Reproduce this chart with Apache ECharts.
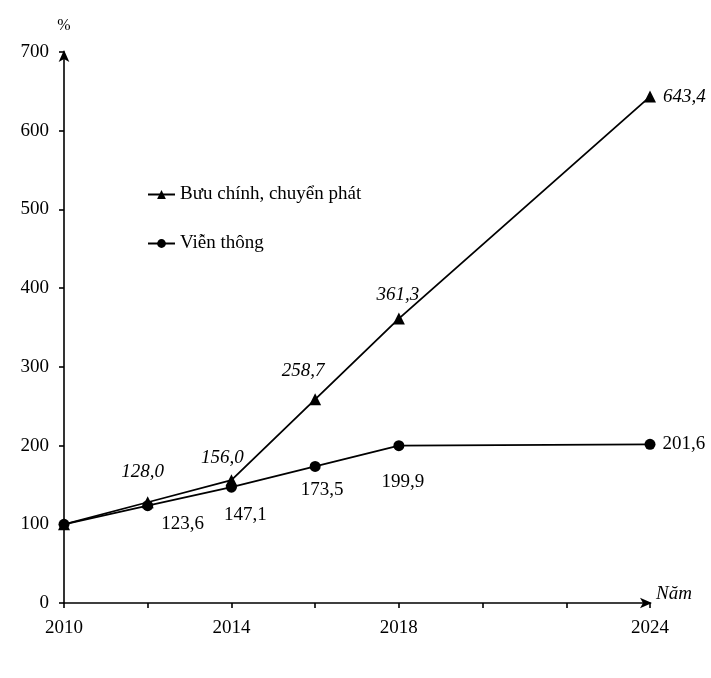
<!DOCTYPE html>
<html>
<head>
<meta charset="utf-8">
<script src="https://cdn.jsdelivr.net/npm/echarts@6/dist/echarts.min.js"></script>
<style>
html, body { margin: 0; padding: 0; background: #fff; }
#chart { width: 711px; height: 678px; }
</style>
</head>
<body>
<div id="chart"></div>
<script>
// so lieu doc tu hinh
var years = [2010, 2012, 2014, 2016, 2018, 2024];
var buuChinh = [100, 128.0, 156.0, 258.7, 361.3, 643.4];
var vienThong = [100, 123.6, 147.1, 173.5, 199.9, 201.6];
var shownYears = [2010, 2014, 2018, 2024];
var seriesNames = ['Bưu chính, chuyển phát', 'Viễn thông'];

// vi tri nhan (chi la kieu dang)
var bcOffsets = [null, [-5, -10], [-9, -2], [-12, -8], [-1, -3], null];
var vtOffsets = [null, [35, -2], [14, 8], [7, 4], [4, 16], null];

var FONT = '"Liberation Serif", "DejaVu Serif", serif';

function fmt(v) {
    return v.toFixed(1).replace('.', ',');
}

function buildData(vals, offsets, pos) {
    var out = [];
    for (var i = 0; i < years.length; i++) {
        var item = { value: [years[i], vals[i]] };
        if (i === 0) {
            item.label = { show: false };
        } else if (offsets[i]) {
            item.label = { show: true, position: pos, offset: offsets[i] };
        } else {
            item.label = { show: true, position: 'right', offset: [2, 0] };
        }
        out.push(item);
    }
    return out;
}

var myChart = echarts.init(document.getElementById('chart'));

myChart.setOption({
    backgroundColor: '#fff',
    animation: false,
    textStyle: { fontFamily: FONT, color: '#000' },
    grid: { left: 64, right: 61, top: 52, bottom: 75 },
    legend: {
        orient: 'vertical',
        left: 142,
        top: 180,
        itemGap: 30,
        itemWidth: 27,
        itemHeight: 11,
        data: seriesNames,
        textStyle: { fontFamily: FONT, fontSize: 19, color: '#000' }
    },
    xAxis: {
        type: 'value',
        min: 2010,
        max: 2024,
        interval: 2,
        name: 'Năm',
        nameLocation: 'end',
        nameGap: 6,
        nameTextStyle: { fontFamily: FONT, fontSize: 19, fontStyle: 'italic', color: '#000', verticalAlign: 'bottom', padding: [0, 0, 0, 0] },
        splitLine: { show: false },
        axisLine: { lineStyle: { color: '#000', width: 1.6 }, symbol: ['none', 'arrow'], symbolSize: [8, 12], symbolOffset: [0, 2] },
        axisTick: { lineStyle: { color: '#000', width: 1.6 }, length: 5, inside: false },
        axisLabel: {
            fontFamily: FONT, fontSize: 19, color: '#000', margin: 16,
            formatter: function (v) { return shownYears.indexOf(v) >= 0 ? String(v) : ''; }
        }
    },
    yAxis: {
        type: 'value',
        min: 0,
        max: 700,
        interval: 100,
        name: '%',
        nameLocation: 'end',
        nameGap: 18,
        nameTextStyle: { fontFamily: FONT, fontSize: 16, color: '#000', align: 'center' },
        splitLine: { show: false },
        axisLine: { show: true, lineStyle: { color: '#000', width: 1.6 }, symbol: ['none', 'arrow'], symbolSize: [8, 12], symbolOffset: [0, 2] },
        axisTick: { show: true, lineStyle: { color: '#000', width: 1.6 }, length: 5 },
        axisLabel: { fontFamily: FONT, fontSize: 19, color: '#000', margin: 15 }
    },
    series: [
        {
            name: seriesNames[0],
            type: 'line',
            symbol: 'triangle',
            symbolSize: 12,
            showAllSymbol: true,
            lineStyle: { color: '#000', width: 1.8 },
            itemStyle: { color: '#000' },
            label: {
                show: true, fontFamily: FONT, fontSize: 19, fontStyle: 'italic', color: '#000',
                formatter: function (p) { return fmt(p.value[1]); }
            },
            data: buildData(buuChinh, bcOffsets, 'top')
        },
        {
            name: seriesNames[1],
            type: 'line',
            symbol: 'circle',
            symbolSize: 11,
            showAllSymbol: true,
            lineStyle: { color: '#000', width: 1.8 },
            itemStyle: { color: '#000' },
            label: {
                show: true, fontFamily: FONT, fontSize: 19, color: '#000',
                formatter: function (p) { return fmt(p.value[1]); }
            },
            data: buildData(vienThong, vtOffsets, 'bottom')
        }
    ]
});
</script>
</body>
</html>
